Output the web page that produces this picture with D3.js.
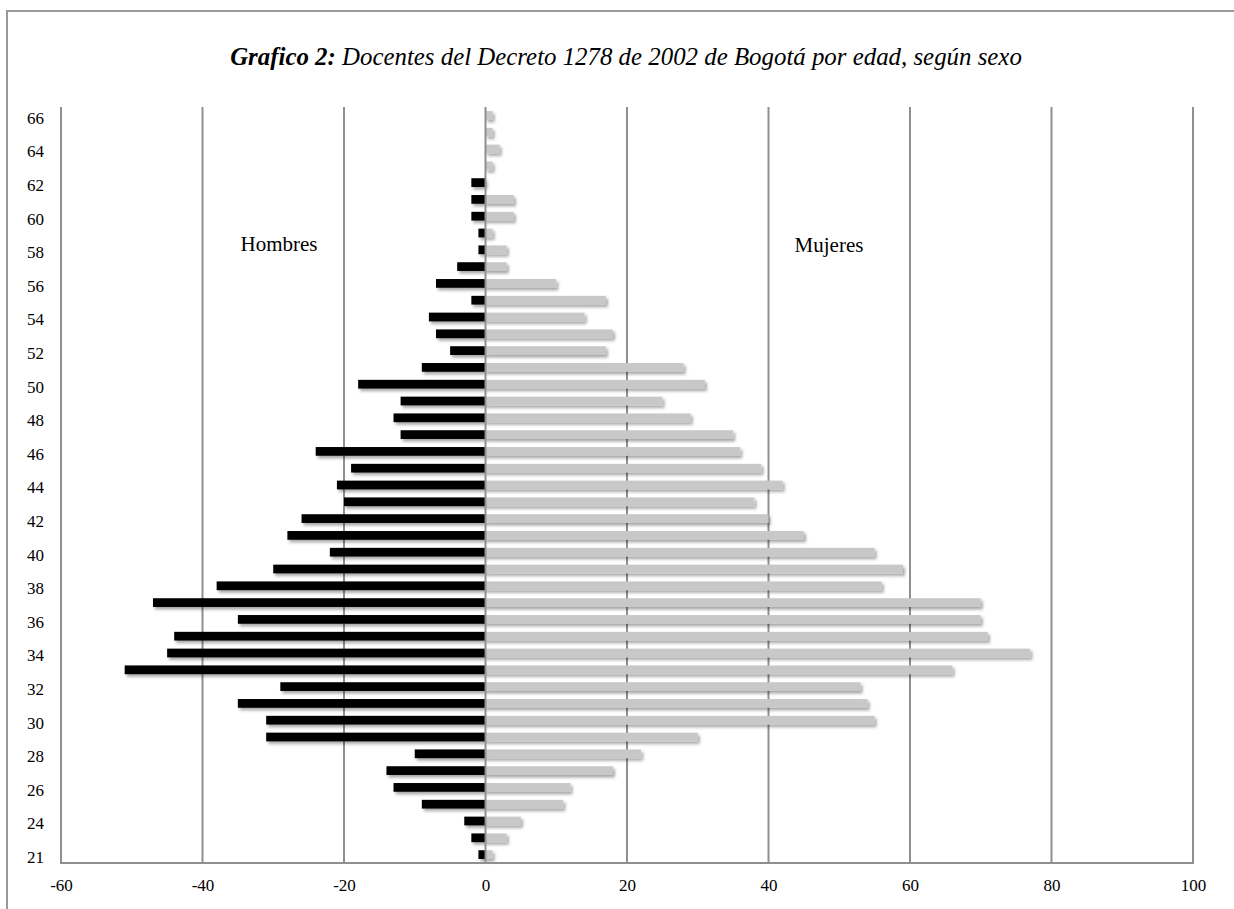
<!DOCTYPE html>
<html>
<head>
<meta charset="utf-8">
<script src="https://cdn.jsdelivr.net/npm/d3@7"></script>
<style>
  html, body { margin: 0; padding: 0; background: #fff; overflow: hidden; }
  svg { display: block; }
  text { font-family: "Liberation Serif", "Times New Roman", serif; fill: #000; }
</style>
</head>
<body>
<svg id="chart" width="1234" height="909"></svg>
<script>
// ---- data ----
const ages = [21, 23, 24, 25, 26, 27, 28, 29, 30, 31, 32, 33, 34, 35, 36, 37, 38, 39, 40,
  41, 42, 43, 44, 45, 46, 47, 48, 49, 50, 51, 52, 53, 54, 55, 56, 57, 58, 59, 60,
  61, 62, 63, 64, 65, 66];
const hombres = [1, 2, 3, 9, 13, 14, 10, 31, 31, 35, 29, 51, 45, 44, 35, 47, 38, 30, 22,
  28, 26, 20, 21, 19, 24, 12, 13, 12, 18, 9, 5, 7, 8, 2, 7, 4, 1, 1, 2,
  2, 2, 0, 0, 0, 0];
const mujeres = [1, 3, 5, 11, 12, 18, 22, 30, 55, 54, 53, 66, 77, 71, 70, 70, 56, 59, 55,
  45, 40, 38, 42, 39, 36, 35, 29, 25, 31, 28, 17, 18, 14, 17, 10, 3, 3, 1, 4,
  4, 0, 1, 2, 1, 1];
const xTicks = [-60, -40, -20, 0, 20, 40, 60, 80, 100];
const yTickLabels = [21, 24, 26, 28, 30, 32, 34, 36, 38, 40, 42, 44, 46, 48, 50, 52, 54, 56, 58, 60, 62, 64, 66];
const titleBold = "Grafico 2:";
const titleRest = " Docentes del Decreto 1278 de 2002 de Bogotá por edad, según sexo";
const seriesNames = ["Hombres", "Mujeres"];

// ---- drawing ----
const svg = d3.select("#chart");
const plot = { left: 61, right: 1193, top: 107, bottom: 863 };

// outer frame: only top and left edges are visible in the reference
svg.append("path")
  .attr("d", "M7,1000 L7,11 L1300,11")
  .attr("fill", "none").attr("stroke", "#999").attr("stroke-width", 2);

const defs = svg.append("defs");
const f = defs.append("filter").attr("id", "shadow")
  .attr("x", "-10%").attr("y", "-50%").attr("width", "130%").attr("height", "250%");
f.append("feDropShadow").attr("dx", 2).attr("dy", 2.5).attr("stdDeviation", 1.4)
  .attr("flood-color", "#000").attr("flood-opacity", 0.35);

const x = d3.scaleLinear().domain([-60, 100]).range([plot.left, plot.right]);
const y = d3.scaleBand()
  .domain(ages.slice().reverse())
  .range([plot.top, plot.bottom])
  .paddingInner(0.48).paddingOuter(0.24);

// vertical gridlines (behind bars)
svg.append("g").selectAll("line")
  .data(xTicks.filter(t => t !== -60 && t !== 0))
  .join("line")
  .attr("x1", d => x(d)).attr("x2", d => x(d))
  .attr("y1", plot.top).attr("y2", plot.bottom)
  .attr("stroke", "#8f8f8f").attr("stroke-width", 2);

const rows = ages.map((a, i) => ({ age: a, h: hombres[i], m: mujeres[i] }));

// Hombres bars (plotted to the left)
svg.append("g").attr("filter", "url(#shadow)").selectAll("rect")
  .data(rows.filter(d => d.h > 0))
  .join("rect")
  .attr("x", d => x(-d.h))
  .attr("width", d => x(0) - x(-d.h))
  .attr("y", d => y(d.age))
  .attr("height", y.bandwidth())
  .attr("fill", "#000");

// Mujeres bars (to the right)
svg.append("g").attr("filter", "url(#shadow)").selectAll("rect")
  .data(rows.filter(d => d.m > 0))
  .join("rect")
  .attr("x", x(0))
  .attr("width", d => x(d.m) - x(0))
  .attr("y", d => y(d.age))
  .attr("height", y.bandwidth())
  .attr("fill", "#c8c8c8");

// zero line
svg.append("line")
  .attr("x1", x(0)).attr("x2", x(0)).attr("y1", plot.top).attr("y2", plot.bottom)
  .attr("stroke", "#8f8f8f").attr("stroke-width", 2);

// left axis line
svg.append("line")
  .attr("x1", plot.left).attr("x2", plot.left).attr("y1", plot.top).attr("y2", plot.bottom + 1)
  .attr("stroke", "#8f8f8f").attr("stroke-width", 2);
// bottom axis line
svg.append("line")
  .attr("x1", plot.left - 1).attr("x2", plot.right + 1).attr("y1", plot.bottom).attr("y2", plot.bottom)
  .attr("stroke", "#8f8f8f").attr("stroke-width", 2);

// x tick labels (plain hyphen minus, as in the reference)
const xAxis = d3.axisBottom(x).tickValues(xTicks).tickSize(0).tickPadding(0)
  .tickFormat(d => String(d));
const gx = svg.append("g").attr("transform", `translate(0, ${plot.bottom + 28})`).call(xAxis);
gx.select(".domain").remove();
gx.selectAll("text").attr("font-size", 17).attr("font-family", "Liberation Serif")
  .attr("fill", "#000").attr("dy", "0").attr("y", 0);

// y tick labels (every other category)
const yAxis = d3.axisLeft(y).tickValues(yTickLabels).tickSize(0).tickPadding(0);
const gy = svg.append("g").attr("transform", `translate(44, 3)`).call(yAxis);
gy.select(".domain").remove();
gy.selectAll("text").attr("font-size", 17).attr("font-family", "Liberation Serif")
  .attr("fill", "#000");

// series labels
svg.append("text").attr("x", 279).attr("y", 251).attr("text-anchor", "middle")
  .attr("font-size", 21).text(seriesNames[0]);
svg.append("text").attr("x", 829).attr("y", 252).attr("text-anchor", "middle")
  .attr("font-size", 21).text(seriesNames[1]);

// title
const title = svg.append("text").attr("x", 626).attr("y", 65).attr("text-anchor", "middle")
  .attr("font-style", "italic").attr("font-size", 23);
title.append("tspan").attr("font-weight", "bold").text(titleBold);
title.append("tspan").text(titleRest);
const tw = title.node().getComputedTextLength();
title.attr("font-size", 23 * 792 / tw);
</script>
</body>
</html>
